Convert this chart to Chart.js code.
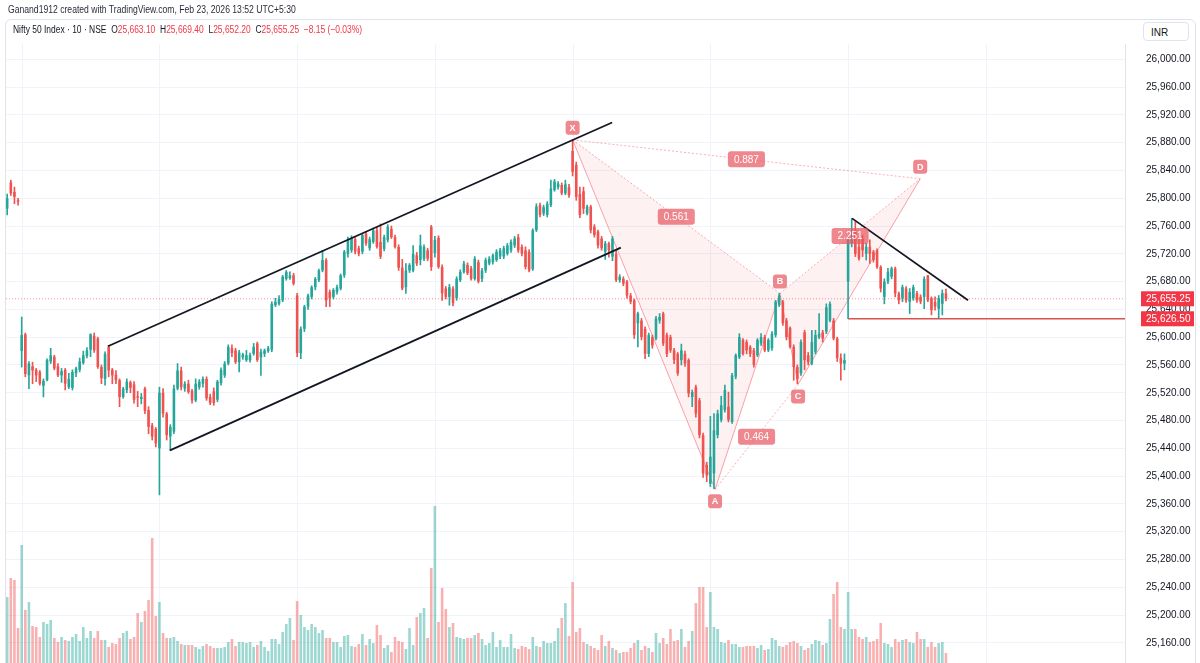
<!DOCTYPE html>
<html>
<head>
<meta charset="utf-8">
<title>Nifty 50 Index - 10m</title>
<script src="https://cdn.jsdelivr.net/npm/chart.js@4.4.1/dist/chart.umd.min.js"></script>
<style>
  body { margin: 0; background: #fff; font-family: "Liberation Sans", Arial, sans-serif; }
  #wrap { position: relative; width: 1200px; height: 663px; overflow: hidden; }
  #chart { position: absolute; left: 0; top: 0; }
  #frame { position: absolute; left: 5px; top: 19px; width: 1189px; height: 680px; border: 1px solid #e0e3eb; border-radius: 6px; pointer-events: none; }
  #credit { position: absolute; left: 8px; top: 3px; font-size: 10.5px; color: #2a2e39; white-space: pre; transform: scaleX(0.82); transform-origin: 0 0; }
  #legend { position: absolute; left: 13px; top: 24px; font-size: 10px; color: #131722; white-space: pre; transform: scaleX(0.845); transform-origin: 0 0; }
  #legend .v { color: #f23645; }
  #inr { position: absolute; left: 1143px; top: 22px; width: 46px; height: 19px; border: 1px solid #e0e3eb; border-radius: 4px; font-size: 10px; line-height: 19px; padding-left: 7px; box-sizing: border-box; color: #131722; background: #fff; }
</style>
</head>
<body>
<div id="wrap">
  <canvas id="chart" width="1200" height="663"></canvas>
  <div id="frame"></div>
  <div id="credit">Ganand1912 created with TradingView.com, Feb 23, 2026 13:52 UTC+5:30</div>
  <div id="legend"></div>
  <div id="inr">INR</div>
</div>
<script>
// 10 minute candles, oldest first (one row per session, 38 bars a day)
var open = [
  25785, 25823, 25809, 25797,
  25580, 25604, 25545, 25558, 25553, 25550, 25530, 25538, 25565, 25572, 25558, 25545, 25553, 25528, 25527, 25548, 25553, 25563, 25573, 25582, 25602, 25598, 25557, 25540, 25586, 25553, 25546, 25538, 25514, 25524, 25535, 25532, 25515, 25511, 25526, 25495, 25473, 25468,
  25440, 25520, 25490, 25457, 25464, 25526, 25552, 25526, 25533, 25523, 25509, 25528, 25533, 25540, 25514, 25522, 25510, 25534, 25545, 25562, 25584, 25581, 25564, 25571, 25567, 25567, 25576, 25591, 25571, 25576, 25580, 25582, 25646, 25648, 25653, 25684, 25685, 25689,
  25660, 25577, 25612, 25644, 25658, 25672, 25682, 25696, 25711, 25665, 25658, 25665, 25670, 25689, 25720, 25725, 25741, 25728, 25723, 25749, 25728, 25737, 25754, 25737, 25727, 25740, 25756, 25744, 25730, 25700, 25672, 25696, 25696, 25718, 25711, 25713, 25725, 25759,
  25721, 25743, 25701, 25670, 25658, 25670, 25656, 25682, 25694, 25704, 25699, 25684, 25708, 25684, 25696, 25706, 25708, 25711, 25716, 25716, 25720, 25725, 25732, 25744, 25730, 25725, 25723, 25698, 25754, 25790, 25778, 25776, 25790, 25812, 25816, 25819, 25807, 25816,
  25868, 25848, 25806, 25810, 25778, 25788, 25759, 25752, 25742, 25723, 25735, 25716, 25720, 25682, 25684, 25680, 25660, 25653, 25620, 25624, 25612, 25576, 25600, 25598, 25624, 25634, 25603, 25600, 25581, 25576, 25567, 25576, 25567, 25514, 25528, 25509, 25459, 25416,
  25389, 25404, 25459, 25481, 25495, 25500, 25478, 25543, 25571, 25596, 25593, 25586, 25581, 25574, 25591, 25600, 25581, 25584, 25603, 25646, 25651, 25624, 25613, 25586, 25557, 25548, 25607, 25574, 25562, 25579, 25600, 25607, 25608, 25624, 25624, 25598, 25570, 25562,
  25680, 25735, 25754, 25730, 25742, 25720, 25730, 25723, 25725, 25701, 25658, 25680, 25687, 25699, 25663, 25656, 25670, 25651, 25656, 25663, 25658, 25658, 25689, 25656, 25651, 25641, 25648, 25663.1
];
var high = [
  25806, 25826, 25816, 25800,
  25629, 25606, 25565, 25564, 25555, 25552, 25540, 25569, 25584, 25574, 25562, 25555, 25555, 25548, 25553, 25557, 25570, 25580, 25585, 25605, 25606, 25600, 25560, 25579, 25588, 25555, 25552, 25540, 25528, 25540, 25537, 25536, 25522, 25519, 25528, 25500, 25476, 25470,
  25528, 25526, 25492, 25474, 25531, 25562, 25557, 25536, 25538, 25525, 25540, 25539, 25543, 25543, 25518, 25527, 25538, 25556, 25565, 25589, 25589, 25584, 25581, 25577, 25581, 25577, 25591, 25593, 25583, 25583, 25587, 25651, 25656, 25660, 25689, 25696, 25694, 25692,
  25663, 25615, 25646, 25662, 25674, 25686, 25698, 25725, 25713, 25668, 25670, 25675, 25691, 25725, 25744, 25746, 25744, 25731, 25749, 25752, 25744, 25757, 25758, 25763, 25747, 25762, 25760, 25747, 25733, 25712, 25706, 25706, 25732, 25722, 25747, 25733, 25728, 25761,
  25745, 25746, 25704, 25673, 25676, 25673, 25687, 25697, 25709, 25707, 25702, 25716, 25711, 25699, 25714, 25716, 25720, 25726, 25728, 25731, 25735, 25740, 25745, 25748, 25733, 25730, 25726, 25756, 25792, 25793, 25790, 25795, 25826, 25827, 25824, 25822, 25826, 25820,
  25884, 25852, 25816, 25816, 25790, 25790, 25762, 25754, 25745, 25738, 25737, 25745, 25725, 25690, 25687, 25682, 25663, 25655, 25636, 25627, 25615, 25606, 25603, 25630, 25634, 25636, 25606, 25603, 25584, 25578, 25590, 25580, 25569, 25524, 25531, 25512, 25462, 25420,
  25486, 25490, 25495, 25515, 25531, 25521, 25548, 25576, 25605, 25598, 25596, 25588, 25584, 25598, 25605, 25603, 25598, 25608, 25653, 25663, 25653, 25627, 25615, 25589, 25560, 25596, 25610, 25578, 25610, 25610, 25634, 25610, 25648, 25651, 25627, 25600, 25576, 25576,
  25745, 25771, 25766, 25742, 25747, 25735, 25740, 25725, 25727, 25703, 25684, 25699, 25701, 25701, 25665, 25675, 25673, 25670, 25675, 25666, 25661, 25687, 25689, 25658, 25658, 25660, 25668, 25669.4
];
var low = [
  25776, 25804, 25792, 25790,
  25557, 25543, 25526, 25533, 25536, 25531, 25514, 25537, 25562, 25553, 25543, 25535, 25524, 25526, 25524, 25543, 25550, 25561, 25570, 25572, 25578, 25555, 25533, 25531, 25543, 25533, 25533, 25500, 25512, 25520, 25520, 25505, 25500, 25504, 25490, 25461, 25452, 25442,
  25373, 25485, 25452, 25437, 25461, 25524, 25524, 25522, 25519, 25505, 25507, 25525, 25528, 25509, 25503, 25502, 25507, 25531, 25542, 25560, 25572, 25562, 25550, 25568, 25565, 25564, 25574, 25565, 25545, 25572, 25578, 25579, 25644, 25646, 25651, 25682, 25683, 25675,
  25572, 25569, 25608, 25640, 25655, 25668, 25680, 25694, 25644, 25644, 25655, 25662, 25668, 25686, 25715, 25722, 25720, 25717, 25720, 25732, 25725, 25735, 25728, 25713, 25724, 25737, 25742, 25728, 25696, 25668, 25663, 25693, 25694, 25703, 25704, 25710, 25710, 25696,
  25715, 25699, 25653, 25655, 25646, 25645, 25653, 25680, 25692, 25690, 25682, 25682, 25678, 25680, 25693, 25704, 25705, 25709, 25713, 25713, 25718, 25722, 25729, 25722, 25717, 25698, 25694, 25696, 25752, 25773, 25775, 25773, 25788, 25810, 25813, 25805, 25805, 25801,
  25832, 25797, 25772, 25778, 25776, 25750, 25744, 25728, 25725, 25712, 25715, 25710, 25680, 25679, 25674, 25656, 25648, 25598, 25586, 25596, 25569, 25572, 25584, 25596, 25620, 25588, 25572, 25578, 25562, 25545, 25560, 25558, 25514, 25500, 25485, 25455, 25398, 25392,
  25385, 25382, 25455, 25478, 25492, 25478, 25476, 25540, 25569, 25574, 25576, 25572, 25557, 25572, 25588, 25579, 25579, 25581, 25600, 25644, 25617, 25596, 25584, 25538, 25533, 25545, 25553, 25560, 25560, 25576, 25598, 25593, 25605, 25622, 25596, 25565, 25538, 25553,
  25626.5, 25730, 25716, 25711, 25716, 25711, 25706, 25708, 25699, 25665, 25648, 25677, 25684, 25658, 25648, 25651, 25650, 25634, 25653, 25650, 25648, 25641, 25651, 25632, 25639, 25627, 25632, 25652.2
];
var close = [
  25800, 25807, 25802, 25795,
  25603, 25547, 25562, 25552, 25545, 25533, 25537, 25567, 25574, 25555, 25545, 25551, 25533, 25540, 25550, 25555, 25565, 25574, 25581, 25604, 25581, 25557, 25541, 25576, 25552, 25545, 25538, 25514, 25526, 25536, 25527, 25510, 25513, 25514, 25494, 25471, 25457, 25447,
  25520, 25490, 25459, 25471, 25526, 25552, 25528, 25533, 25521, 25509, 25533, 25536, 25540, 25512, 25505, 25505, 25536, 25553, 25562, 25586, 25577, 25564, 25578, 25575, 25574, 25574, 25586, 25567, 25579, 25581, 25584, 25648, 25651, 25655, 25687, 25694, 25689, 25677,
  25577, 25612, 25644, 25660, 25672, 25684, 25696, 25711, 25653, 25656, 25668, 25672, 25689, 25723, 25740, 25743, 25723, 25720, 25747, 25735, 25741, 25754, 25730, 25716, 25744, 25759, 25744, 25730, 25700, 25670, 25696, 25704, 25720, 25706, 25732, 25730, 25713, 25701,
  25740, 25701, 25663, 25658, 25672, 25649, 25684, 25694, 25706, 25692, 25684, 25713, 25680, 25696, 25711, 25713, 25718, 25723, 25725, 25728, 25732, 25737, 25742, 25725, 25720, 25701, 25696, 25754, 25788, 25776, 25787, 25792, 25814, 25824, 25821, 25807, 25820, 25804,
  25838, 25802, 25776, 25785, 25788, 25754, 25747, 25732, 25728, 25735, 25725, 25742, 25682, 25687, 25677, 25660, 25651, 25603, 25634, 25600, 25576, 25603, 25588, 25627, 25629, 25591, 25576, 25581, 25567, 25548, 25581, 25562, 25519, 25521, 25490, 25459, 25404, 25401,
  25428, 25466, 25490, 25502, 25524, 25481, 25545, 25574, 25600, 25576, 25581, 25576, 25560, 25596, 25600, 25581, 25596, 25605, 25651, 25660, 25620, 25600, 25586, 25557, 25540, 25593, 25567, 25564, 25593, 25603, 25605, 25598, 25643, 25648, 25598, 25570, 25562, 25567,
  25740, 25740, 25720, 25713, 25725, 25730, 25720, 25711, 25701, 25670, 25680, 25694, 25699, 25663, 25653, 25672, 25653, 25665, 25672, 25653, 25651, 25684, 25653, 25639, 25644, 25656, 25663.4, 25655.25
];
var volume = [
  66, 85, 83, 35,
  118, 53, 61, 37, 36, 26, 41, 39, 43, 25, 21, 26, 23, 22, 26, 29, 22, 36, 25, 32, 25, 32, 23, 23, 16, 20, 19, 25, 30, 32, 24, 26, 50, 41, 52, 63, 125, 47,
  61, 30, 25, 25, 26, 22, 19, 18, 18, 18, 16, 14, 17, 19, 17, 15, 15, 15, 16, 21, 24, 17, 21, 21, 20, 21, 16, 18, 22, 16, 12, 24, 24, 19, 31, 39, 45, 23,
  62, 48, 36, 33, 39, 36, 30, 33, 25, 25, 21, 21, 16, 27, 28, 17, 16, 19, 29, 18, 24, 20, 38, 28, 15, 18, 11, 26, 22, 21, 14, 35, 18, 46, 50, 55, 25, 95,
  157, 41, 75, 54, 36, 40, 26, 25, 24, 25, 25, 28, 30, 24, 18, 20, 31, 16, 23, 16, 16, 29, 15, 14, 17, 16, 14, 26, 17, 16, 22, 20, 20, 22, 35, 45, 60, 27,
  81, 31, 35, 21, 19, 17, 15, 13, 28, 17, 22, 15, 13, 10, 11, 11, 15, 20, 23, 13, 17, 15, 11, 30, 20, 25, 19, 34, 22, 23, 34, 16, 22, 32, 60, 76, 76, 36,
  71, 36, 34, 21, 20, 23, 19, 19, 16, 16, 17, 17, 17, 15, 18, 13, 14, 25, 23, 17, 16, 18, 21, 22, 20, 17, 13, 15, 19, 23, 22, 18, 20, 44, 69, 81, 36, 34,
  71, 34, 34, 26, 24, 26, 21, 22, 24, 40, 20, 19, 16, 24, 21, 23, 24, 21, 20, 31, 24, 24, 16, 21, 16, 20, 21, 10
];

// session starts (bar index) for the vertical grid
var dayStarts = [4, 42, 80, 118, 156, 194, 232, 270];

// drawings: (bar index, price)
var channelUpper = [{x: 27.8, y: 25587}, {x: 166.9, y: 25909}];
var channelLower = [{x: 44.9, y: 25437}, {x: 169.3, y: 25729}];
var trendLine = [{x: 233.1, y: 25771}, {x: 265.1, y: 25653}];
var dayOpenLow = 25626.5;

var patternNames = ['X', 'A', 'B', 'C', 'D'];
var patternIdx = [156, 195.3, 213.2, 218.2, 251.9];
var patternPrice = [25884, 25381, 25663, 25532, 25828];
var ratioPairs = [[0, 2], [1, 3], [2, 4], [0, 4]];
var ratioLabels = ['0.561', '0.464', '2.251', '0.887'];

var X_MIN = -0.33, X_MAX = 308.4;
var Y_MIN = 25131, Y_MAX = 26022;
var VOL_MAX = 619;

var UP = '#26a69a', DOWN = '#ef5350';
var GRID = '#f0f3fa';

function fmt(v) {
  return v.toLocaleString('en-US', {minimumFractionDigits: 2, maximumFractionDigits: 2});
}

// legend row
var last = close.length - 1;
var chg = close[last] - close[last - 1];
var pct = chg / close[last - 1] * 100;
var signed = function (v) { return (v < 0 ? '\u2212' : '+') + Math.abs(v).toFixed(2); };
document.getElementById('legend').innerHTML =
  'Nifty 50 Index \u00b7 10 \u00b7 NSE  ' +
  'O<span class="v">' + fmt(open[last]) + '</span>  ' +
  'H<span class="v">' + fmt(high[last]) + '</span>  ' +
  'L<span class="v">' + fmt(low[last]) + '</span>  ' +
  'C<span class="v">' + fmt(close[last]) + '</span>  ' +
  '<span class="v">' + signed(chg) + ' (' + signed(pct) + '%)</span>';

var candleColor = [], volColor = [], bodies = [], wicks = [], vols = [];
for (var i = 0; i < close.length; i++) {
  var up = close[i] >= open[i];
  candleColor.push(up ? UP : DOWN);
  volColor.push(up ? 'rgba(38,166,154,0.45)' : 'rgba(239,83,80,0.45)');
  bodies.push({x: i, y: [open[i], close[i]]});
  wicks.push({x: i, y: [low[i], high[i]]});
  vols.push({x: i, y: volume[i]});
}

function pt(k) { return {x: patternIdx[k], y: patternPrice[k]}; }

var pink = 'rgba(242,54,69,0.45)';
var pinkDot = 'rgba(242,54,69,0.4)';
var pinkFill = 'rgba(242,54,69,0.07)';

var datasets = [
  {type: 'line', data: channelUpper, borderColor: '#131722', borderWidth: 1.8, pointRadius: 0, order: 1},
  {type: 'line', data: channelLower, borderColor: '#131722', borderWidth: 1.8, pointRadius: 0, order: 1},
  {type: 'line', data: trendLine, borderColor: '#131722', borderWidth: 1.8, pointRadius: 0, order: 1},
  {type: 'line', data: [{x: 232, y: dayOpenLow}, {x: X_MAX, y: dayOpenLow}], borderColor: '#d9534f', borderWidth: 1.5, pointRadius: 0, order: 2},
  {type: 'bar', data: bodies, backgroundColor: candleColor, barPercentage: 0.72, categoryPercentage: 1, grouped: false, minBarLength: 1, order: 3},
  {type: 'bar', data: wicks, backgroundColor: candleColor, barThickness: 1, grouped: false, order: 4},
  // X-A-B-C-D legs, also the fill target for the two triangles
  {type: 'line', data: [pt(0), pt(1), pt(2), pt(3), pt(4)], borderColor: pink, borderWidth: 1, pointRadius: 0, order: 5},
  {type: 'line', data: [pt(0), pt(2)], borderColor: pinkDot, borderWidth: 1, borderDash: [2, 2], pointRadius: 0, fill: 6, backgroundColor: pinkFill, order: 6},
  {type: 'line', data: [pt(2), pt(4)], borderColor: pinkDot, borderWidth: 1, borderDash: [2, 2], pointRadius: 0, fill: 6, backgroundColor: pinkFill, order: 6},
  {type: 'line', data: [pt(1), pt(3)], borderColor: pinkDot, borderWidth: 1, borderDash: [2, 2], pointRadius: 0, order: 6},
  {type: 'line', data: [pt(0), pt(4)], borderColor: pinkDot, borderWidth: 1, borderDash: [2, 2], pointRadius: 0, order: 6},
  {type: 'line', data: [{x: X_MIN, y: close[last]}, {x: X_MAX, y: close[last]}], borderColor: 'rgba(242,54,69,0.55)', borderWidth: 1, borderDash: [1, 2], pointRadius: 0, order: 7},
  {type: 'bar', yAxisID: 'yv', data: vols, backgroundColor: volColor, barPercentage: 0.72, categoryPercentage: 1, grouped: false, order: 10}
];

function roundBox(ctx, x, y, w, h, r) {
  ctx.beginPath();
  ctx.moveTo(x + r, y);
  ctx.lineTo(x + w - r, y);
  ctx.quadraticCurveTo(x + w, y, x + w, y + r);
  ctx.lineTo(x + w, y + h - r);
  ctx.quadraticCurveTo(x + w, y + h, x + w - r, y + h);
  ctx.lineTo(x + r, y + h);
  ctx.quadraticCurveTo(x, y + h, x, y + h - r);
  ctx.lineTo(x, y + r);
  ctx.quadraticCurveTo(x, y, x + r, y);
  ctx.closePath();
}

var overlay = {
  id: 'overlay',
  beforeDatasetsDraw: function (chart) {
    // session separators (x scale is hidden so its grid is drawn here)
    var ctx = chart.ctx, xs = chart.scales.x, a = chart.chartArea;
    ctx.save();
    ctx.strokeStyle = GRID;
    ctx.lineWidth = 1;
    dayStarts.forEach(function (d) {
      var px = Math.round(xs.getPixelForValue(d)) + 0.5;
      ctx.beginPath();
      ctx.moveTo(px, a.top);
      ctx.lineTo(px, a.bottom);
      ctx.stroke();
    });
    ctx.restore();
  },
  afterDatasetsDraw: function (chart) {
    var ctx = chart.ctx, xs = chart.scales.x, ys = chart.scales.y;
    ctx.save();
    ctx.textAlign = 'center';
    ctx.textBaseline = 'middle';
    ctx.font = '10px "Liberation Sans", Arial, sans-serif';
    // ratio tags on the dotted legs
    ratioPairs.forEach(function (p, k) {
      var px = (xs.getPixelForValue(patternIdx[p[0]]) + xs.getPixelForValue(patternIdx[p[1]])) / 2;
      var py = (ys.getPixelForValue(patternPrice[p[0]]) + ys.getPixelForValue(patternPrice[p[1]])) / 2;
      var w = ctx.measureText(ratioLabels[k]).width + 12;
      roundBox(ctx, px - w / 2, py - 8, w, 16, 3);
      ctx.fillStyle = 'rgba(232,90,98,0.72)';
      ctx.fill();
      ctx.fillStyle = '#fff';
      ctx.fillText(ratioLabels[k], px, py + 0.5);
    });
    // point letters, above the highs and below the lows
    ctx.font = 'bold 9px "Liberation Sans", Arial, sans-serif';
    patternNames.forEach(function (n, k) {
      var px = xs.getPixelForValue(patternIdx[k]);
      var py = ys.getPixelForValue(patternPrice[k]) + (k % 2 ? 12 : -12);
      roundBox(ctx, px - 7, py - 7, 14, 14, 3);
      ctx.fillStyle = 'rgba(232,90,98,0.72)';
      ctx.fill();
      ctx.fillStyle = '#fff';
      ctx.fillText(n, px, py + 0.5);
    });
    ctx.restore();
  },
  afterDraw: function (chart) {
    // price tags on the right scale
    var ctx = chart.ctx, ys = chart.scales.y, left = chart.chartArea.right + 16;
    ctx.save();
    ctx.font = '10px "Liberation Sans", Arial, sans-serif';
    ctx.textBaseline = 'middle';
    [close[last], dayOpenLow].forEach(function (v) {
      var py = ys.getPixelForValue(v);
      ctx.fillStyle = '#f23645';
      ctx.fillRect(left, py - 7.5, 53, 15);
      ctx.fillStyle = '#fff';
      ctx.fillText(fmt(v), left + 5, py + 0.5);
    });
    ctx.restore();
  }
};

new Chart(document.getElementById('chart'), {
  type: 'bar',
  data: {datasets: datasets},
  plugins: [overlay],
  options: {
    responsive: false,
    animation: false,
    events: [],
    layout: {padding: {left: 6, top: 44, right: 0, bottom: 0}},
    plugins: {legend: {display: false}, tooltip: {enabled: false}},
    scales: {
      x: {type: 'linear', display: false, min: X_MIN, max: X_MAX, offset: false},
      y: {
        type: 'linear', position: 'right', min: Y_MIN, max: Y_MAX,
        grid: {color: GRID, drawTicks: false},
        border: {display: true, color: '#e0e3eb'},
        ticks: {
          stepSize: 40, includeBounds: false, padding: 21, color: '#131722',
          font: {family: '"Liberation Sans", Arial, sans-serif', size: 10},
          callback: function (v) { return fmt(v); }
        },
        // fixed scale width; the label padding should not shrink the pane
        afterFit: function (s) { s.width = 75; s.paddingTop = 0; s.paddingBottom = 0; }
      },
      yv: {type: 'linear', display: false, min: 0, max: VOL_MAX}
    }
  }
});
</script>
</body>
</html>
